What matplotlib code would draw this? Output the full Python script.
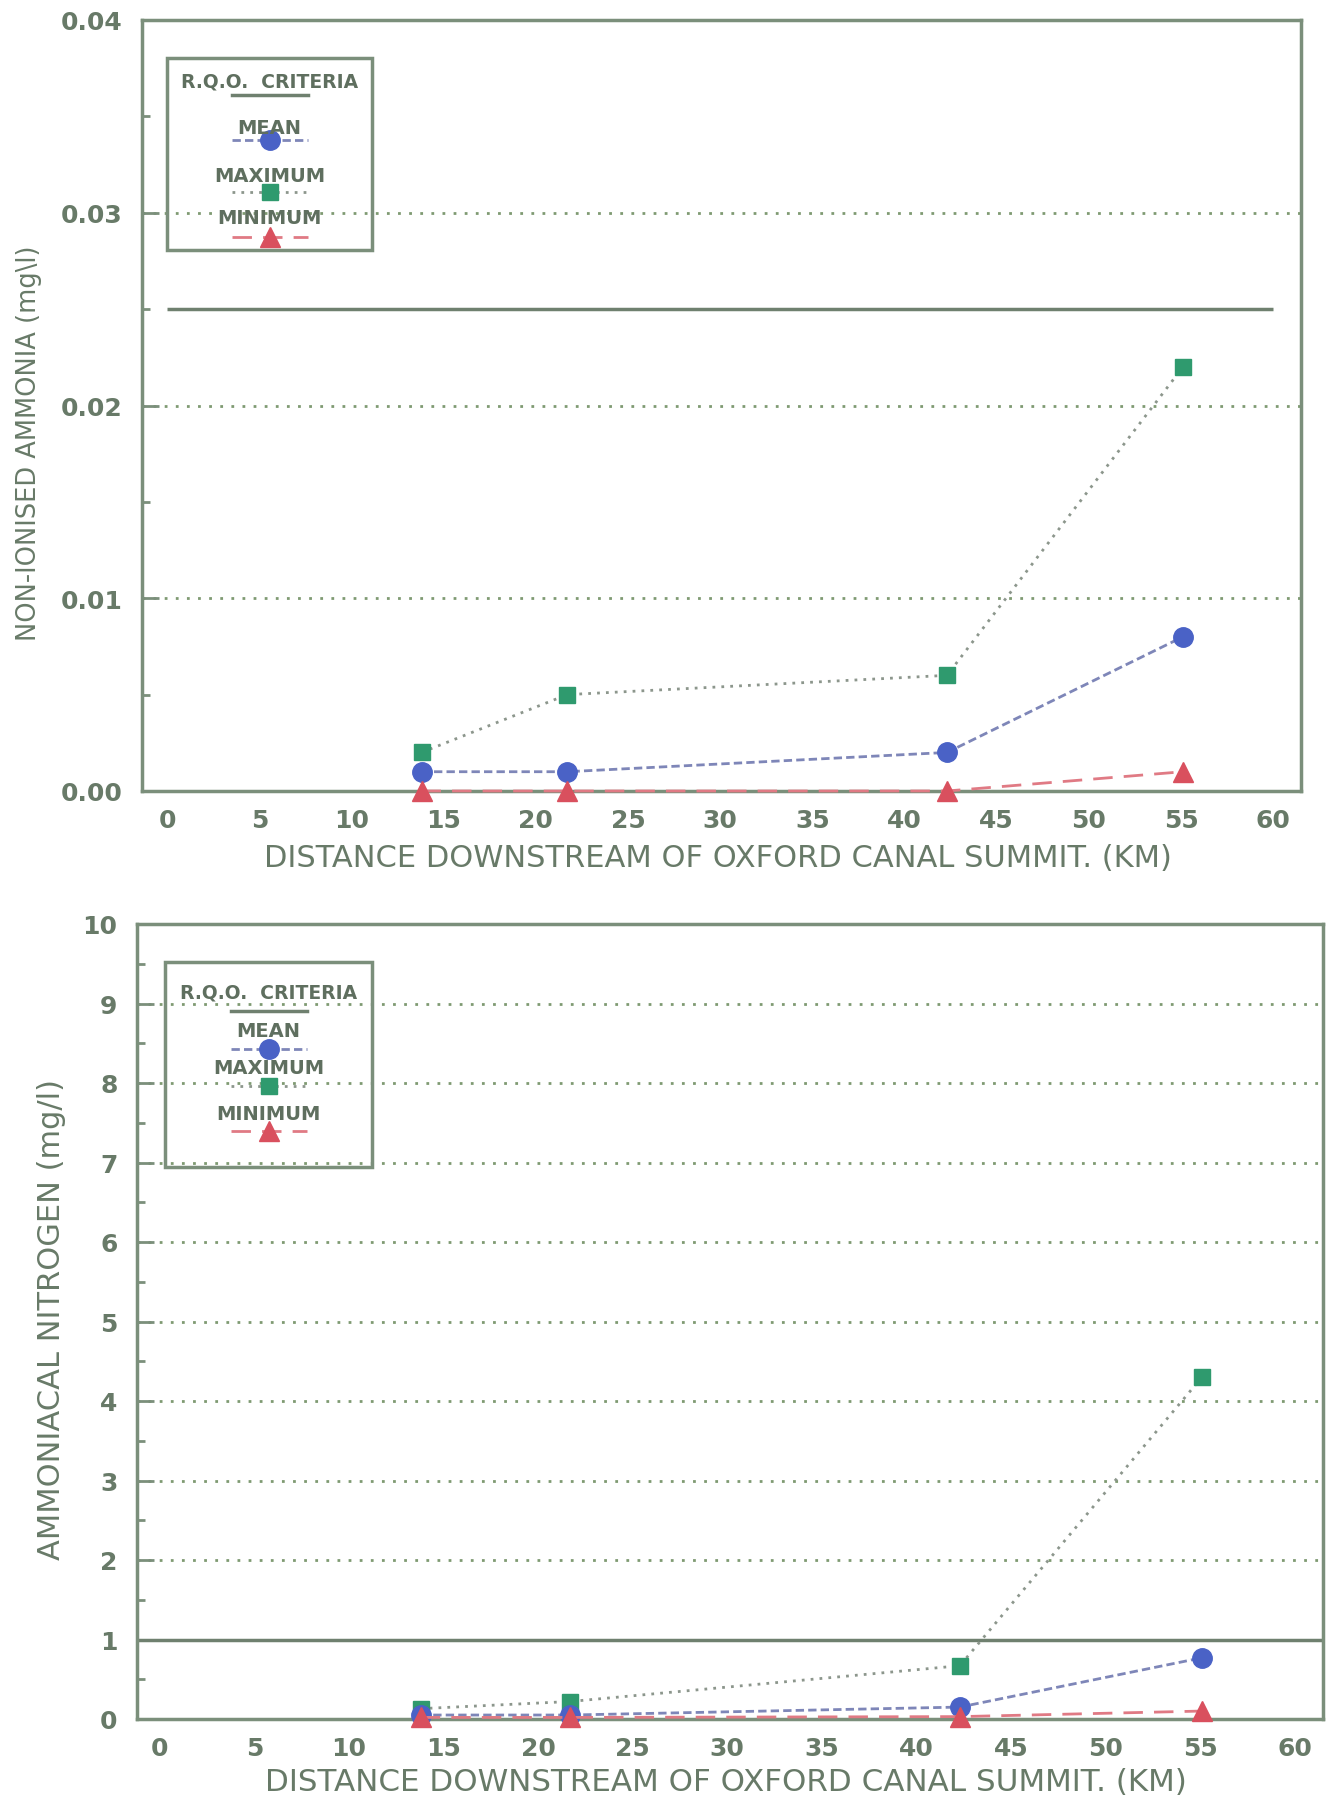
import matplotlib
matplotlib.use("Agg")
import matplotlib.pyplot as plt
from matplotlib.patches import Rectangle
from matplotlib.ticker import MultipleLocator, FormatStrFormatter

W, H = 1328, 1806

# sampling stations (km downstream of the summit)
distance_km = [13.8, 21.7, 42.3, 55.1]

# non-ionised ammonia (mg/l)
nh3_mean = [0.001, 0.001, 0.002, 0.008]
nh3_max = [0.002, 0.005, 0.006, 0.022]
nh3_min = [0.0, 0.0, 0.0, 0.001]
nh3_rqo = 0.025

# ammoniacal nitrogen (mg/l)
amn_mean = [0.05, 0.05, 0.15, 0.77]
amn_max = [0.13, 0.22, 0.67, 4.3]
amn_min = [0.02, 0.02, 0.03, 0.1]
amn_rqo = 1.0

x_ticks = list(range(0, 65, 5))
x_label = "DISTANCE DOWNSTREAM OF OXFORD CANAL SUMMIT. (KM)"
key_labels = ["MEAN", "MAXIMUM", "MINIMUM"]

frame_col = "#7b8f7b"
text_col = "#687a68"
grid_col = "#7f9a72"
narrow = ["Liberation Sans Narrow", "DejaVu Sans"]

mean_style = dict(color="#7e86b8", ls=(0, (3, 1.5)), lw=2.0, marker="o", ms=14,
                  mfc="#4a62c6", mec="#4a62c6")
max_style = dict(color="#8c968c", ls=(0, (1, 2.2)), lw=2.0, marker="s", ms=12,
                 mfc="#2f9a6e", mec="#2f9a6e")
min_style = dict(color="#e07a84", ls=(0, (7, 4)), lw=2.0, marker="^", ms=14,
                 mfc="#d9505e", mec="#d9505e")


def fx(x):
    return x / W


def fy(y):
    return 1 - y / H


def setup_axes(ax, ylim, major, minor, fmt, xlim):
    ax.set_xlim(*xlim)
    ax.set_ylim(*ylim)
    ax.set_xticks(x_ticks)
    ax.yaxis.set_major_locator(MultipleLocator(major))
    ax.yaxis.set_minor_locator(MultipleLocator(minor))
    ax.yaxis.set_major_formatter(FormatStrFormatter(fmt))
    ax.tick_params(axis="x", length=0, pad=12, labelsize=18, labelcolor=text_col)
    ax.tick_params(axis="y", which="major", direction="in", length=12, width=2,
                   color=frame_col, pad=14, labelsize=18, labelcolor=text_col)
    ax.tick_params(axis="y", which="minor", direction="in", length=6, width=2,
                   color=frame_col)
    for lab in ax.get_xticklabels() + ax.get_yticklabels():
        lab.set_fontweight("bold")
    for s in ax.spines.values():
        s.set_color(frame_col)
        s.set_linewidth(2.5)
    ax.yaxis.grid(True, which="major", color=grid_col, ls=(0, (1, 3)), lw=2.0)
    ax.set_axisbelow(True)


def draw_key(ax, box, rows):
    # box = (left, top, right, bottom) in figure pixels
    l, t, r, b = box
    cx = (l + r) / 2
    tr = ax.figure.transFigure
    ax.add_patch(Rectangle((fx(l), fy(b)), fx(r - l), (b - t) / H, transform=tr,
                           fill=False, ec=frame_col, lw=2.5, clip_on=False))
    ax.text(fx(cx), fy(rows[0]), "R.Q.O.  CRITERIA", transform=tr, ha="center",
            va="center", fontsize=13.5, fontweight="bold", color="#5f6f5f",
            family=narrow)
    ax.plot([fx(cx - 38), fx(cx + 38)], [fy(rows[1])] * 2, transform=tr,
            color="#6f806f", lw=2.5, clip_on=False)
    styles = [mean_style, max_style, min_style]
    for i, (lab, st) in enumerate(zip(key_labels, styles)):
        ty, my = rows[2 + 2 * i], rows[3 + 2 * i]
        ax.text(fx(cx), fy(ty), lab, transform=tr, ha="center", va="center",
                fontsize=14, fontweight="bold", color="#5f6f5f", family=narrow)
        ax.plot([fx(cx - 38), fx(cx + 38)], [fy(my)] * 2, transform=tr,
                clip_on=False, markevery=[], **st)
        ax.plot([fx(cx)], [fy(my)], transform=tr, clip_on=False, ls="none",
                marker=st["marker"], ms=st["ms"], mfc=st["mfc"], mec=st["mec"])


fig = plt.figure(figsize=(W / 100, H / 100), dpi=100)

# --- top panel: non-ionised ammonia
ax1 = fig.add_axes([fx(142), fy(792), fx(1301 - 142), (792 - 21) / H])
setup_axes(ax1, (0, 0.04), 0.01, 0.005, "%.2f", (-1.36, 61.5))
ax1.hlines(nh3_rqo, 0, 60, color="#6f806f", lw=2.5)
ax1.plot(distance_km, nh3_max, clip_on=False, zorder=3, **max_style)
ax1.plot(distance_km, nh3_mean, clip_on=False, zorder=4, **mean_style)
ax1.plot(distance_km, nh3_min, clip_on=False, zorder=5, **min_style)
draw_key(ax1, (167, 59, 372, 251), [82, 96, 128, 141, 176, 193, 218, 238])
fig.text(fx(718), fy(859), x_label, ha="center", va="center", fontsize=22,
         color=text_col, family=narrow)
fig.text(fx(29), fy(443), "NON-IONISED AMMONIA (mg\\l)", rotation=90,
         ha="center", va="center", fontsize=18.5, color=text_col, family=narrow)

# --- bottom panel: ammoniacal nitrogen
ax2 = fig.add_axes([fx(137), fy(1720), fx(1323 - 137), (1720 - 925) / H])
setup_axes(ax2, (0, 10), 1, 0.5, "%d", (-1.2, 61.5))
ax2.axhline(amn_rqo, color="#6f806f", lw=2.5)
ax2.plot(distance_km, amn_max, clip_on=False, zorder=3, **max_style)
ax2.plot(distance_km, amn_mean, clip_on=False, zorder=4, **mean_style)
ax2.plot(distance_km, amn_min, clip_on=False, zorder=5, **min_style)
draw_key(ax2, (165, 963, 372, 1168), [993, 1012, 1032, 1050, 1068, 1087, 1115, 1132])
fig.text(fx(726), fy(1783), x_label, ha="center", va="center", fontsize=22.3,
         color=text_col, family=narrow)
fig.text(fx(52), fy(1319), "AMMONIACAL NITROGEN (mg/l)", rotation=90,
         ha="center", va="center", fontsize=22, color=text_col, family=narrow)

fig.savefig("out.png", dpi=100, facecolor="white")
